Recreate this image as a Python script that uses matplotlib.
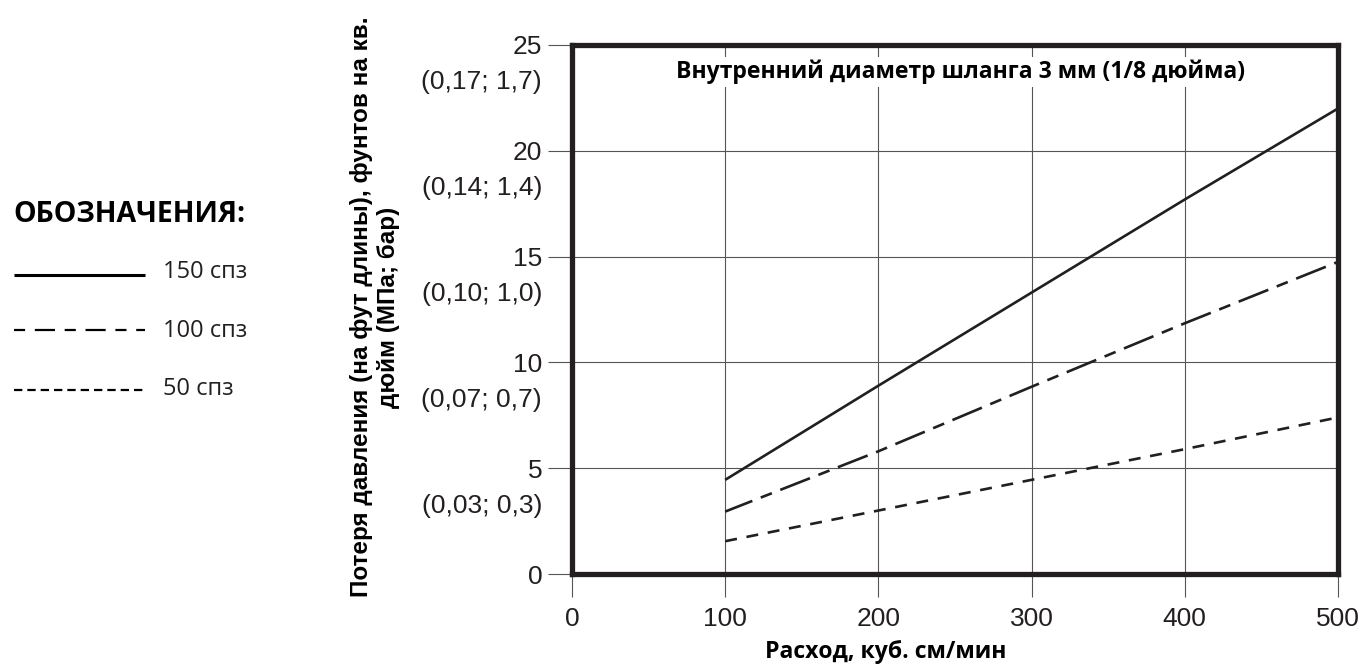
import matplotlib
matplotlib.use('Agg')
import matplotlib.pyplot as plt
import matplotlib.transforms as mtransforms
from matplotlib.lines import Line2D

plt.rcParams['lines.scale_dashes'] = False

# ---- data ----
flow = [100, 200, 300, 400, 500]
loss_150 = [4.45, 8.9, 13.3, 17.7, 22.0]
loss_100 = [2.95, 5.8, 8.85, 11.85, 14.75]
loss_50 = [1.55, 3.0, 4.45, 5.9, 7.4]

x_ticks = [0, 100, 200, 300, 400, 500]
y_ticks = [0, 5, 10, 15, 20, 25]
y_sub_labels = ['', '(0,03; 0,3)', '(0,07; 0,7)', '(0,10; 1,0)', '(0,14; 1,4)', '(0,17; 1,7)']

series_labels = ['150 спз', '100 спз', '50 спз']
title = 'Внутренний диаметр шланга 3 мм (1/8 дюйма)'
xlabel = 'Расход, куб. см/мин'
ylabel = 'Потеря давления (на фут длины), фунтов на кв.\nдюйм (МПа; бар)'
legend_title = 'ОБОЗНАЧЕНИЯ:'

INK = '#231f20'
W, H = 1365, 669

fig = plt.figure(figsize=(W / 100, H / 100), dpi=100)
ax = fig.add_axes([572 / W, 1 - 574 / H, (1338 - 572) / W, (574 - 45) / H])

dash_100 = (2, (23, 6.5, 8.6, 6.5))
dash_50 = (0, (8.6, 7))

ax.plot(flow, loss_150, color=INK, lw=1.9, solid_capstyle='butt', zorder=3)
ax.plot(flow, loss_100, color=INK, lw=1.9, linestyle=dash_100, dash_capstyle='butt', zorder=3)
ax.plot(flow, loss_50, color=INK, lw=1.9, linestyle=dash_50, dash_capstyle='butt', zorder=3)

ax.set_xlim(0, 500)
ax.set_ylim(0, 25)
ax.set_xticks(x_ticks)
ax.set_yticks(y_ticks)
ax.set_xticklabels([str(v) for v in x_ticks], fontfamily='Liberation Sans', fontsize=19, color=INK)
ax.set_yticklabels([str(v) for v in y_ticks], fontfamily='Liberation Sans', fontsize=19, color=INK)
ax.tick_params(axis='y', direction='out', length=17.5, width=0.8, color='#555555', pad=4)
ax.tick_params(axis='x', direction='out', length=16.5, width=0.8, color='#555555', pad=7)

ax.grid(True, color='#555555', lw=0.8, zorder=1)
ax.set_axisbelow(True)
for sp in ax.spines.values():
    sp.set_linewidth(3.8)
    sp.set_color(INK)
    sp.set_zorder(4)

base = mtransforms.blended_transform_factory(ax.transAxes, ax.transData)
sub_tr = mtransforms.offset_copy(base, fig=fig, x=-30, y=-35, units='dots')
for yv, lab in zip(y_ticks, y_sub_labels):
    if lab:
        ax.text(0, yv, lab, transform=sub_tr, ha='right', va='center_baseline',
                fontfamily='Liberation Sans', fontsize=19, color=INK, clip_on=False)

# title inside plot
ax.text(960 / W, 1 - 78 / H, title, transform=fig.transFigure, ha='center', va='baseline',
        fontfamily='Open Sans', fontweight='bold', fontsize=16.6, color='black', zorder=5,
        bbox=dict(facecolor='white', edgecolor='none', pad=2))

# axis labels
fig.text(886 / W, 1 - 658 / H, xlabel, ha='center', va='baseline',
         fontfamily='Open Sans', fontweight='bold', fontsize=16.6, color='black')
fig.text(375 / W, 1 - 307 / H, ylabel, ha='center', va='center', rotation=90,
         multialignment='center', linespacing=1.25,
         fontfamily='Liberation Sans', fontweight='bold', fontsize=17.5, color='black')

# legend (manual)
fig.text(13 / W, 1 - 222 / H, legend_title, ha='left', va='baseline',
         fontfamily='Open Sans', fontweight='bold', fontsize=20.5, color='black')
leg_styles = [('-', 2.2), ((0, (8, 7, 14.5, 7)), 1.6), ((0, (6, 3.6)), 1.6)]
leg_line_y = [275, 330, 390]
leg_text_y = [278, 337, 395]
for lab, (ls, lw), ly, ty in zip(series_labels, leg_styles, leg_line_y, leg_text_y):
    fig.add_artist(Line2D([14 / W, 145 / W], [1 - ly / H, 1 - ly / H], transform=fig.transFigure,
                          color='black', lw=lw, linestyle=ls, solid_capstyle='butt', dash_capstyle='butt'))
    fig.text(163 / W, 1 - ty / H, lab, ha='left', va='baseline',
             fontfamily='Open Sans', fontsize=17, color=INK)

fig.savefig('out.png', dpi=100)
